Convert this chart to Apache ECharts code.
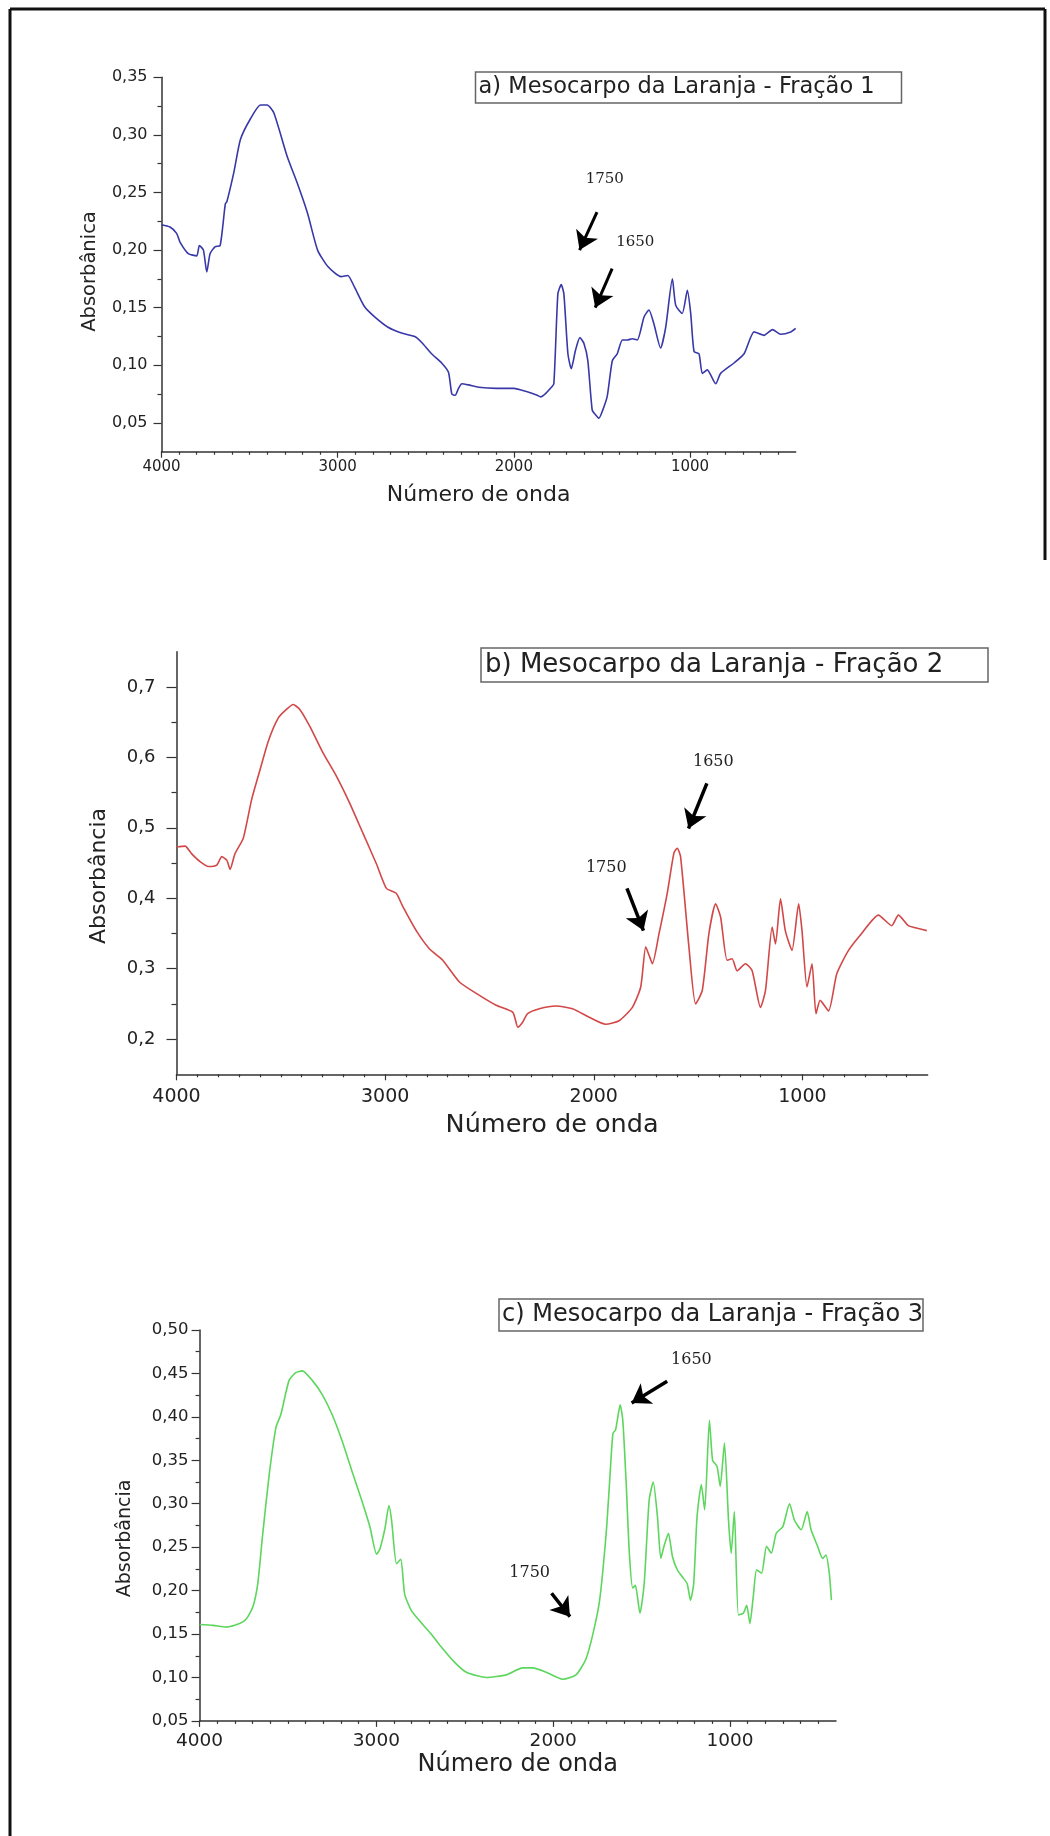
<!DOCTYPE html>
<html>
<head>
<meta charset="utf-8">
<title>Mesocarpo da Laranja - espectros</title>
<script src="https://cdn.jsdelivr.net/npm/echarts@6/dist/echarts.min.js"></script>
<style>
  html, body { margin: 0; padding: 0; background: #fff; }
  #chart { width: 1050px; height: 1836px; }
</style>
</head>
<body>
<div id="chart"></div>
<script>
// espectros: [numero de onda, absorbancia]
const specA = [[4000,0.222],[3952,0.220],[3914,0.2145],[3895,0.207],[3848,0.197],[3800,0.195],[3785,0.204],[3762,0.200],[3743,0.181],[3724,0.197],[3695,0.203],[3667,0.204],[3638,0.240],[3629,0.242],[3590,0.267],[3552,0.296],[3495,0.314],[3438,0.326],[3400,0.326],[3362,0.319],[3286,0.281],[3229,0.258],[3171,0.232],[3114,0.200],[3057,0.186],[2981,0.177],[2943,0.178],[2905,0.168],[2848,0.151],[2790,0.142],[2714,0.133],[2638,0.128],[2562,0.125],[2524,0.120],[2467,0.110],[2410,0.102],[2371,0.094],[2352,0.075],[2333,0.074],[2314,0.080],[2295,0.084],[2257,0.083],[2200,0.081],[2100,0.080],[2000,0.080],[1924,0.077],[1867,0.074],[1848,0.0726],[1820,0.0755],[1792,0.080],[1773,0.084],[1750,0.162],[1731,0.170],[1716,0.162],[1693,0.110],[1674,0.097],[1650,0.113],[1625,0.124],[1602,0.119],[1580,0.104],[1555,0.061],[1536,0.057],[1517,0.054],[1498,0.060],[1470,0.073],[1441,0.104],[1413,0.110],[1384,0.122],[1356,0.122],[1328,0.123],[1299,0.122],[1261,0.142],[1233,0.148],[1205,0.136],[1167,0.115],[1138,0.133],[1100,0.175],[1081,0.152],[1044,0.145],[1015,0.165],[996,0.145],[977,0.112],[949,0.110],[930,0.093],[902,0.096],[854,0.084],[826,0.093],[750,0.102],[693,0.110],[636,0.129],[580,0.126],[532,0.131],[485,0.127],[428,0.129],[400,0.132]]

const specB = [[4000,0.473],[3990,0.473],[3959,0.474],[3927,0.463],[3887,0.452],[3847,0.445],[3807,0.447],[3783,0.459],[3759,0.454],[3743,0.441],[3720,0.463],[3680,0.485],[3640,0.540],[3600,0.582],[3560,0.623],[3512,0.656],[3473,0.668],[3441,0.675],[3409,0.668],[3361,0.644],[3297,0.606],[3233,0.573],[3170,0.535],[3106,0.492],[3042,0.449],[2994,0.414],[2947,0.407],[2915,0.388],[2851,0.354],[2787,0.328],[2724,0.312],[2644,0.281],[2548,0.262],[2468,0.248],[2388,0.238],[2364,0.217],[2341,0.224],[2317,0.236],[2261,0.243],[2182,0.247],[2102,0.243],[2022,0.231],[1943,0.221],[1879,0.226],[1815,0.245],[1775,0.274],[1751,0.331],[1735,0.319],[1719,0.307],[1687,0.350],[1648,0.407],[1616,0.464],[1600,0.471],[1584,0.459],[1544,0.331],[1512,0.250],[1480,0.269],[1448,0.350],[1416,0.392],[1392,0.373],[1361,0.312],[1337,0.314],[1313,0.297],[1273,0.307],[1241,0.297],[1201,0.245],[1177,0.269],[1145,0.359],[1129,0.335],[1105,0.399],[1082,0.354],[1050,0.326],[1018,0.392],[1002,0.354],[978,0.274],[954,0.307],[935,0.236],[915,0.255],[875,0.240],[835,0.293],[779,0.326],[716,0.350],[636,0.376],[572,0.361],[540,0.376],[492,0.361],[444,0.357],[404,0.354]]

const specC = [[4000,0.161],[3923,0.160],[3849,0.158],[3774,0.162],[3737,0.167],[3699,0.181],[3671,0.208],[3643,0.265],[3606,0.334],[3568,0.388],[3540,0.403],[3494,0.442],[3456,0.451],[3419,0.453],[3363,0.442],[3307,0.426],[3251,0.403],[3195,0.373],[3139,0.338],[3083,0.304],[3036,0.273],[2999,0.242],[2980,0.248],[2952,0.271],[2929,0.298],[2914,0.281],[2886,0.231],[2862,0.236],[2840,0.196],[2802,0.177],[2746,0.163],[2690,0.150],[2641,0.137],[2560,0.118],[2491,0.106],[2378,0.100],[2266,0.103],[2172,0.111],[2115,0.111],[2040,0.106],[1946,0.098],[1871,0.103],[1815,0.121],[1774,0.151],[1737,0.189],[1700,0.266],[1681,0.324],[1662,0.381],[1647,0.385],[1634,0.400],[1621,0.414],[1606,0.396],[1587,0.324],[1569,0.243],[1550,0.203],[1535,0.206],[1509,0.174],[1485,0.208],[1457,0.304],[1434,0.325],[1410,0.285],[1391,0.237],[1373,0.251],[1348,0.266],[1325,0.239],[1298,0.224],[1270,0.216],[1242,0.208],[1223,0.189],[1205,0.208],[1186,0.285],[1162,0.322],[1143,0.293],[1116,0.396],[1098,0.350],[1073,0.343],[1055,0.320],[1031,0.370],[1008,0.281],[993,0.243],[975,0.291],[952,0.172],[924,0.174],[905,0.183],[887,0.162],[868,0.193],[849,0.224],[821,0.220],[793,0.251],[766,0.243],[738,0.266],[700,0.274],[663,0.300],[635,0.281],[597,0.270],[563,0.291],[541,0.270],[504,0.251],[476,0.237],[457,0.241],[438,0.220],[426,0.189]]

// ticks
const xMajor = [1000, 2000, 3000, 4000]
const xMinor = []
for (let v = 500; v < 4000; v += 100) if (v % 1000) xMinor.push(v)
const yMajorA = [0.05, 0.10, 0.15, 0.20, 0.25, 0.30, 0.35]
const yMinorA = [0.075, 0.125, 0.175, 0.225, 0.275, 0.325]
const yMajorB = [0.2, 0.3, 0.4, 0.5, 0.6, 0.7]
const yMinorB = [0.25, 0.35, 0.45, 0.55, 0.65]
const yMajorC = [0.05, 0.10, 0.15, 0.20, 0.25, 0.30, 0.35, 0.40, 0.45, 0.50]
const yMinorC = [0.075, 0.125, 0.175, 0.225, 0.275, 0.325, 0.375, 0.425, 0.475]

const titles = ['a) Mesocarpo da Laranja - Fração 1', 'b) Mesocarpo da Laranja - Fração 2', 'c) Mesocarpo da Laranja - Fração 3']
const yNames = ['Absorbânica', 'Absorbância', 'Absorbância']
const xName = 'Número de onda'

// anotações: [x, y, texto] e setas [[x0, y0], [x1, y1]]
const notesA = [[1484, 0.262, '1750'], [1311, 0.207, '1650']]
const arrowsA = [[[1528, 0.233], [1627, 0.200]], [[1442, 0.184], [1538, 0.150]]]
const notesB = [[1427, 0.593, '1650'], [1940, 0.443, '1750']]
const arrowsB = [[[1458, 0.563], [1546, 0.499]], [[1841, 0.414], [1762, 0.354]]]
const notesC = [[1218, 0.466, '1650'], [2133, 0.220, '1750']]
const arrowsC = [[[1355, 0.441], [1556, 0.416]], [[2009, 0.197], [1905, 0.170]]]

const SANS = 'DejaVu Sans'

const panels = [
  {
    data: specA, color: '#3838a8', yMin: 0.025, yMax: 0.35, digits: 2,
    yMajor: yMajorA, yMinor: yMinorA, notes: notesA, arrows: arrowsA,
    grid: { left: 161.5, top: 77.3, width: 634.2, height: 374.4 },
    yLabel: 16, yMargin: 14, xLabel: 15, xMargin: 8, yTick: 8, xTick: 6,
    yNameSize: 19.5, yNameGap: 62, yShift: 7, xNameSize: 22, xNameGap: 33,
    noteSize: 15, arrowWidth: 3,
    box: { left: 475.5, top: 71.4, padding: [4.5, 27, 4.5, 3], fontSize: 22.5 }
  },
  {
    data: specB, color: '#d24848', yMin: 0.15, yMax: 0.75, digits: 1,
    yMajor: yMajorB, yMinor: yMinorB, notes: notesB, arrows: arrowsB,
    grid: { left: 176.5, top: 651.7, width: 751.1, height: 422.6 },
    yLabel: 18, yMargin: 21, xLabel: 19, xMargin: 13, yTick: 10, xTick: 6,
    yNameSize: 22, yNameGap: 66, yShift: 13, xNameSize: 25.5, xNameGap: 38,
    noteSize: 16, arrowWidth: 3.5,
    box: { left: 481, top: 647.5, padding: [4.5, 45, 4.5, 4], fontSize: 26 }
  },
  {
    data: specC, color: '#5cd65c', yMin: 0.05, yMax: 0.5, digits: 2,
    yMajor: yMajorC, yMinor: yMinorC, notes: notesC, arrows: arrowsC,
    grid: { left: 199.6, top: 1330, width: 636.4, height: 390.9 },
    yLabel: 16.5, yMargin: 11, xLabel: 18.5, xMargin: 11, yTick: 8, xTick: 6,
    yNameSize: 19, yNameGap: 65, yShift: 13, xNameSize: 24, xNameGap: 32,
    noteSize: 16, arrowWidth: 3.5,
    box: { left: 499, top: 1299, padding: [4, 0, 4, 3], fontSize: 24 }
  }
]

// eixo só com traços, sobreposto ao eixo principal
function tickAxis(i, pos, min, max, values, len, inverse) {
  return {
    type: 'value', gridIndex: i, position: pos, min: min, max: max, inverse: inverse,
    axisLine: { show: false },
    axisTick: { show: true, length: len, customValues: values, lineStyle: { color: '#333', width: 1.2 } },
    axisLabel: { show: false },
    splitLine: { show: false }
  }
}

const option = {
  animation: false,
  backgroundColor: '#fff',
  grid: [],
  xAxis: [],
  yAxis: [],
  series: [],
  title: [],
  graphic: [
    { type: 'line', shape: { x1: 10, y1: 9, x2: 10, y2: 1836 }, style: { stroke: '#111', lineWidth: 3 } },
    { type: 'line', shape: { x1: 10, y1: 9, x2: 1045, y2: 9 }, style: { stroke: '#111', lineWidth: 3 } },
    { type: 'line', shape: { x1: 1045, y1: 9, x2: 1045, y2: 560 }, style: { stroke: '#111', lineWidth: 3 } }
  ]
}

panels.forEach((p, i) => {
  option.grid.push(p.grid)
  const fmt = v => v.toFixed(p.digits).replace('.', ',')

  option.xAxis.push({
    type: 'value', gridIndex: i, position: 'bottom', min: 400, max: 4000, inverse: true,
    name: xName, nameLocation: 'middle', nameGap: p.xNameGap,
    nameTextStyle: { fontFamily: SANS, fontSize: p.xNameSize, color: '#222' },
    axisLine: { lineStyle: { color: '#333', width: 1.5 } },
    axisTick: { show: false },
    axisLabel: { customValues: xMajor, formatter: v => String(v), margin: p.xMargin, fontFamily: SANS, fontSize: p.xLabel, color: '#222' },
    splitLine: { show: false }
  })
  option.xAxis.push(tickAxis(i, 'bottom', 400, 4000, xMajor, p.xTick, true))
  option.xAxis.push(tickAxis(i, 'bottom', 400, 4000, xMinor, p.xTick / 2, true))

  option.yAxis.push({
    type: 'value', gridIndex: i, position: 'left', min: p.yMin, max: p.yMax,
    name: yNames[i], nameLocation: 'middle', nameGap: p.yNameGap, nameRotate: 90,
    nameTextStyle: { fontFamily: SANS, fontSize: p.yNameSize, color: '#222', padding: [0, p.yShift * 2, 0, 0] },
    axisLine: { lineStyle: { color: '#333', width: 1.5 } },
    axisTick: { show: false },
    axisLabel: { customValues: p.yMajor, formatter: fmt, margin: p.yMargin, fontFamily: SANS, fontSize: p.yLabel, color: '#222' },
    splitLine: { show: false }
  })
  option.yAxis.push(tickAxis(i, 'left', p.yMin, p.yMax, p.yMajor, p.yTick, false))
  option.yAxis.push(tickAxis(i, 'left', p.yMin, p.yMax, p.yMinor, p.yTick / 2, false))

  option.series.push({
    type: 'line',
    xAxisIndex: i * 3,
    yAxisIndex: i * 3,
    data: p.data,
    showSymbol: false,
    smooth: 0.2,
    lineStyle: { color: p.color, width: 1.6 },
    silent: true,
    markLine: {
      silent: true,
      symbol: ['none', 'arrow'],
      symbolSize: 18,
      label: { show: false },
      lineStyle: { color: '#000', width: p.arrowWidth, type: 'solid' },
      data: p.arrows.map(a => [{ coord: a[0] }, { coord: a[1] }])
    },
    markPoint: {
      silent: true,
      symbol: 'rect',
      symbolSize: 1,
      itemStyle: { color: 'rgba(0,0,0,0)' },
      label: { show: true, position: 'inside', formatter: '{b}', color: '#222', fontFamily: 'DejaVu Serif', fontSize: p.noteSize },
      data: p.notes.map(n => ({ name: n[2], coord: [n[0], n[1]] }))
    }
  })

  option.title.push({
    text: titles[i],
    left: p.box.left,
    top: p.box.top,
    padding: p.box.padding,
    borderColor: '#666',
    borderWidth: 1.5,
    backgroundColor: '#fff',
    textStyle: { fontFamily: SANS, fontSize: p.box.fontSize, fontWeight: 'normal', color: '#222' }
  })
})

const chart = echarts.init(document.getElementById('chart'), null, { renderer: 'canvas' })
chart.setOption(option)
</script>
</body>
</html>
